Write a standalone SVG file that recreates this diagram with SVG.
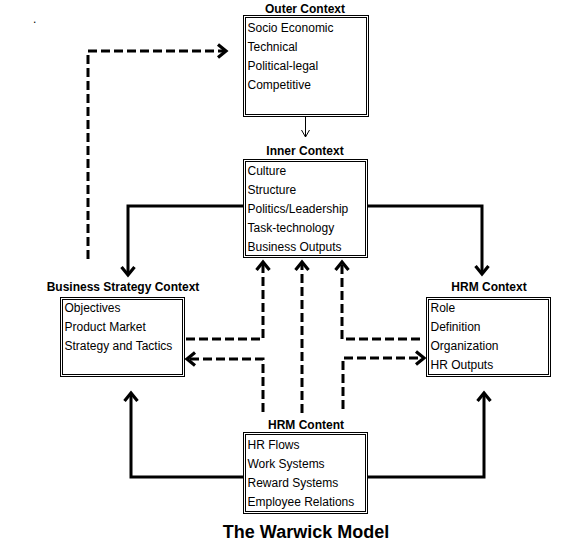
<svg xmlns="http://www.w3.org/2000/svg" width="586" height="559" viewBox="0 0 586 559">
<style>
text{font-family:"Liberation Sans",Arial,sans-serif;font-size:12px;fill:#000}
.t{font-weight:bold;text-anchor:middle}
.big{font-weight:bold;font-size:18px;text-anchor:middle}
.bo{fill:#fff;stroke:#000;stroke-width:1}
.bi{fill:none;stroke:#000;stroke-width:1}
.solid{fill:none;stroke:#000;stroke-width:3;marker-end:url(#ah)}
.dash{fill:none;stroke:#000;stroke-width:3;stroke-dasharray:9 4;marker-end:url(#ah)}
.thin{fill:none;stroke:#000;stroke-width:1;marker-end:url(#th)}
</style>
<defs>
<marker id="ah" markerUnits="userSpaceOnUse" viewBox="-14 -9 18 18" markerWidth="18" markerHeight="18" refX="0" refY="0" orient="auto">
<path d="M-8,-6.5 L0,0 L-8,6.5" fill="none" stroke="#000" stroke-width="3.2" stroke-dasharray="none"/>
</marker>
<marker id="th" markerUnits="userSpaceOnUse" viewBox="-10 -6 12 12" markerWidth="12" markerHeight="12" refX="0" refY="0" orient="auto">
<path d="M-7,-4 L0,0 L-7,4" fill="none" stroke="#000" stroke-width="1"/>
</marker>
</defs>
<rect width="586" height="559" fill="#fff"/>
<text x="33" y="23">.</text>
<g id="connectors">
<line class="thin" x1="305.5" y1="117" x2="305.5" y2="137"/>
<polyline class="solid" points="243,206 128,206 128,275"/>
<polyline class="solid" points="367,206 482,206 482,274"/>
<polyline class="solid" points="243,477 131,477 131,393"/>
<polyline class="solid" points="368,477 484,477 484,393"/>
<polyline class="dash" points="88,259 88,51 226,51"/>
<polyline class="dash" points="186,339 263,339 263,262"/>
<polyline class="dash" points="263,412 263,359 187,359"/>
<polyline class="dash" points="302,413 302,262"/>
<polyline class="dash" points="420,339 342,339 342,262"/>
<polyline class="dash" points="343,409 343,358 424,358"/>
</g>
<g id="outer-context">
<text class="t" x="305" y="13">Outer Context</text>
<rect class="bo" x="243.5" y="15.5" width="125" height="101"/>
<rect class="bi" x="245.5" y="17.5" width="121" height="97"/>
<text x="247.5" y="32">Socio Economic</text>
<text x="247.5" y="51">Technical</text>
<text x="247.5" y="70">Political-legal</text>
<text x="247.5" y="89">Competitive</text>
</g>
<g id="inner-context">
<text class="t" x="305" y="155">Inner Context</text>
<rect class="bo" x="243.5" y="159.5" width="124" height="98"/>
<rect class="bi" x="245.5" y="161.5" width="120" height="94"/>
<text x="247.5" y="174.5">Culture</text>
<text x="247.5" y="193.5">Structure</text>
<text x="247.5" y="212.5">Politics/Leadership</text>
<text x="247.5" y="231.5">Task-technology</text>
<text x="247.5" y="250.5">Business Outputs</text>
</g>
<g id="business-strategy-context">
<text class="t" x="123" y="291">Business Strategy Context</text>
<rect class="bo" x="60.5" y="297.5" width="124" height="79"/>
<rect class="bi" x="62.5" y="299.5" width="120" height="75"/>
<text x="64.5" y="312">Objectives</text>
<text x="64.5" y="331">Product Market</text>
<text x="64.5" y="350">Strategy and Tactics</text>
</g>
<g id="hrm-context">
<text class="t" x="489" y="291">HRM Context</text>
<rect class="bo" x="426.5" y="297.5" width="124" height="79"/>
<rect class="bi" x="428.5" y="299.5" width="120" height="75"/>
<text x="430.5" y="312">Role</text>
<text x="430.5" y="331">Definition</text>
<text x="430.5" y="350">Organization</text>
<text x="430.5" y="369">HR Outputs</text>
</g>
<g id="hrm-content">
<text class="t" x="306" y="428.5">HRM Content</text>
<rect class="bo" x="243.5" y="432.5" width="124" height="81"/>
<rect class="bi" x="245.5" y="434.5" width="120" height="77"/>
<text x="247.5" y="448.5">HR Flows</text>
<text x="247.5" y="467.5">Work Systems</text>
<text x="247.5" y="486.5">Reward Systems</text>
<text x="247.5" y="505.5">Employee Relations</text>
</g>
<text class="big" x="306" y="538">The Warwick Model</text>
</svg>
